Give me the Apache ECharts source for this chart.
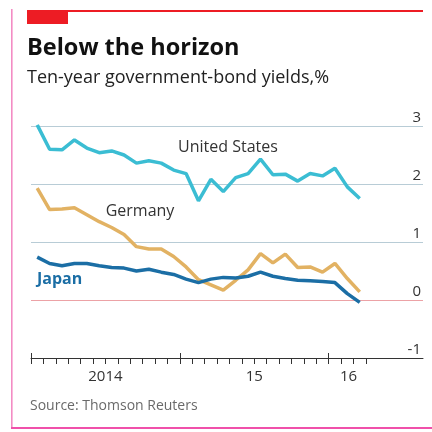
<!DOCTYPE html>
<html>
<head>
<meta charset="utf-8">
<script src="https://cdn.jsdelivr.net/npm/echarts@6/dist/echarts.min.js"></script>
<style>
html,body{margin:0;padding:0;background:#fff;}
#chart{width:432px;height:432px;}
</style>
</head>
<body>
<div id="chart"></div>
<script>
// Monthly average ten-year government-bond yields, %
const months = ['2014-01','2014-02','2014-03','2014-04','2014-05','2014-06','2014-07','2014-08','2014-09','2014-10','2014-11','2014-12',
                '2015-01','2015-02','2015-03','2015-04','2015-05','2015-06','2015-07','2015-08','2015-09','2015-10','2015-11','2015-12',
                '2016-01','2016-02','2016-03'];
const unitedStates = [3.02, 2.60, 2.59, 2.76, 2.62, 2.54, 2.57, 2.50, 2.36, 2.40, 2.36, 2.24,
                      2.18, 1.71, 2.08, 1.87, 2.11, 2.18, 2.43, 2.16, 2.17, 2.05, 2.18, 2.14,
                      2.27, 1.95, 1.75];
const germany = [1.93, 1.56, 1.57, 1.59, 1.47, 1.35, 1.25, 1.13, 0.92, 0.88, 0.88, 0.75,
                 0.57, 0.35, 0.26, 0.17, 0.34, 0.52, 0.80, 0.64, 0.79, 0.56, 0.57, 0.48,
                 0.63, 0.37, 0.14];
const japan = [0.74, 0.63, 0.59, 0.63, 0.63, 0.59, 0.56, 0.55, 0.50, 0.53, 0.48, 0.44,
               0.36, 0.30, 0.36, 0.39, 0.38, 0.41, 0.48, 0.41, 0.37, 0.34, 0.33, 0.32,
               0.30, 0.11, -0.04];
const yTicks = [-1, 0, 1, 2, 3];
const yearLabels = ['2014', '15', '16'];

const FONT = '"Open Sans"';
// x in months since Jan 2014; each monthly value is plotted mid-month
const pts = arr => arr.map((v, i) => [i + 0.5, v]);
const monthTicks = months.map((m, i) => i).concat([months.length]);
const yearStarts = [0, 12, 24];
const yearLabelPos = [6, 18, 25.6];

const chart = echarts.init(document.getElementById('chart'), null, {renderer: 'canvas'});
chart.setOption({
  animation: false,
  backgroundColor: '#fff',
  title: [
    {text: 'Below the horizon', left: 27, top: 36, padding: 0,
     textStyle: {fontFamily: FONT, fontWeight: 'bold', fontSize: 23.5, color: '#111'}},
    {text: 'Ten-year government-bond yields,%', left: 27, top: 69, padding: 0,
     textStyle: {fontFamily: FONT, fontWeight: 'normal', fontSize: 18, color: '#222'}},
    {text: 'Source: Thomson Reuters', left: 30, top: 399, padding: 0,
     textStyle: {fontFamily: FONT, fontWeight: 'normal', fontSize: 14, color: '#6a6a6a'}}
  ],
  grid: {left: 31, right: 9, top: 126, bottom: 74, containLabel: false},
  xAxis: [
    {type: 'value', min: 0, max: 31.6, position: 'bottom',
     axisLine: {show: true, onZero: false, lineStyle: {color: '#333', width: 1}},
     axisTick: {show: true, customValues: monthTicks, length: 6, lineStyle: {color: '#333'}},
     axisLabel: {show: true, customValues: yearLabelPos, margin: 11,
       fontFamily: FONT, fontSize: 15, color: '#333',
       formatter: v => yearLabels[yearLabelPos.indexOf(v)]},
     splitLine: {show: false}},
    {type: 'value', min: 0, max: 31.6, position: 'bottom', offset: 0,
     axisLine: {show: false, onZero: false},
     axisTick: {show: true, customValues: yearStarts, inside: true, length: 5, lineStyle: {color: '#333'}},
     axisLabel: {show: false}, splitLine: {show: false}}
  ],
  yAxis: {
    type: 'value', min: -1, max: 3, interval: 1, position: 'right',
    axisLine: {show: false}, axisTick: {show: false},
    axisLabel: {inside: true, margin: 2, lineHeight: 17,
      fontFamily: FONT, fontSize: 15, color: '#333',
      formatter: v => yTicks.includes(v) ? String(v) + '\n ' : ''},
    splitLine: {show: true, lineStyle: {width: 1.2,
      color: ['#333', '#eca2a6', '#b8ccd6', '#b8ccd6', '#b8ccd6']}}
  },
  series: [
    {name: 'Germany', type: 'line', data: pts(germany), showSymbol: false, symbol: 'none',
     lineStyle: {color: '#e2b263', width: 3.5}, z: 2},
    {name: 'Japan', type: 'line', data: pts(japan), showSymbol: false, symbol: 'none',
     lineStyle: {color: '#1b6ea5', width: 3.5}, z: 3},
    {name: 'United States', type: 'line', data: pts(unitedStates), showSymbol: false, symbol: 'none',
     lineStyle: {color: '#3bbdd3', width: 3.5}, z: 4}
  ],
  graphic: [
    {type: 'rect', shape: {x: 11, y: 9, width: 1.6, height: 420}, style: {fill: '#f38cc4'}, silent: true},
    {type: 'rect', shape: {x: 11, y: 427, width: 421, height: 2}, style: {fill: '#f050aa'}, silent: true},
    {type: 'rect', shape: {x: 27, y: 10, width: 396, height: 2}, style: {fill: '#ed1c24'}, silent: true},
    {type: 'rect', shape: {x: 27, y: 10, width: 41, height: 14}, style: {fill: '#ed1c24'}, silent: true},
    {type: 'text', x: 228, y: 147, silent: true,
     style: {text: 'United States', font: '16px ' + FONT, fill: '#333', textAlign: 'center', textVerticalAlign: 'middle'}},
    {type: 'text', x: 140, y: 211, silent: true,
     style: {text: 'Germany', font: '16px ' + FONT, fill: '#333', textAlign: 'center', textVerticalAlign: 'middle'}},
    {type: 'text', x: 37, y: 279, silent: true,
     style: {text: 'Japan', font: 'bold 16px ' + FONT, fill: '#1b6ea5', textAlign: 'left', textVerticalAlign: 'middle'}}
  ]
});
</script>
</body>
</html>
